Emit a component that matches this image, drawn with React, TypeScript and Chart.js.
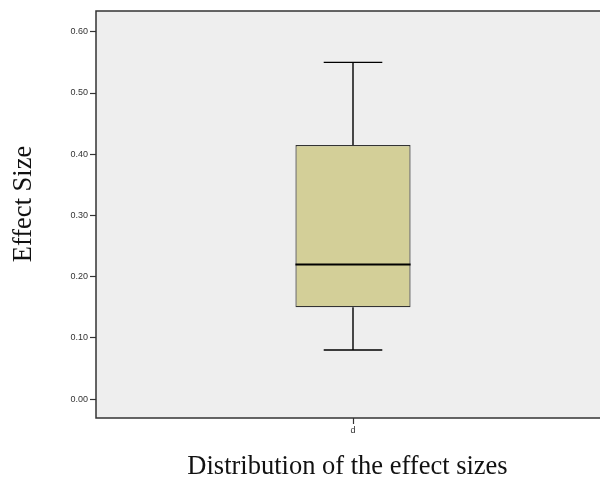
import React, { useEffect, useRef } from "react";
import { Chart, registerables } from "chart.js";

Chart.register(...registerables);

const categories = ["d"];
const whiskerLow = [0.08];
const q1Values = [0.15];
const medianValues = [0.22];
const q3Values = [0.415];
const whiskerHigh = [0.55];
const yTickValues = [0, 0.1, 0.2, 0.3, 0.4, 0.5, 0.6];
const yTickLabels = ["0.00", "0.10", "0.20", "0.30", "0.40", "0.50", "0.60"];
const yTitle = "Effect Size";
const xTitle = "Distribution of the effect sizes";

const titleFont = "26.5px 'Liberation Serif', 'Times New Roman', serif";

const framePlugin = {
  id: "frame",
  beforeDraw(chart: any) {
    const { ctx, chartArea: a } = chart;
    ctx.save();
    ctx.fillStyle = "#EEEEEE";
    ctx.fillRect(a.left, a.top, a.right - a.left, a.bottom - a.top);
    ctx.restore();
  },
  afterDatasetsDraw(chart: any) {
    const { ctx, chartArea: a, scales } = chart;
    const x = scales.x;
    const y = scales.y;
    const catW = (x.right - x.left) / categories.length;
    ctx.save();
    categories.forEach((_, i) => {
      const cx = x.getPixelForValue(i);
      const capHalf = catW * 0.057;
      const boxHalf = catW * 0.112;
      const yLo = y.getPixelForValue(whiskerLow[i]);
      const yQ1 = y.getPixelForValue(q1Values[i]);
      const yMed = y.getPixelForValue(medianValues[i]);
      const yQ3 = y.getPixelForValue(q3Values[i]);
      const yHi = y.getPixelForValue(whiskerHigh[i]);
      ctx.strokeStyle = "#000";
      ctx.lineWidth = 1.4;
      ctx.beginPath();
      ctx.moveTo(cx, yQ3);
      ctx.lineTo(cx, yHi);
      ctx.moveTo(cx - capHalf, yHi);
      ctx.lineTo(cx + capHalf, yHi);
      ctx.moveTo(cx, yQ1);
      ctx.lineTo(cx, yLo);
      ctx.moveTo(cx - capHalf, yLo);
      ctx.lineTo(cx + capHalf, yLo);
      ctx.stroke();
      ctx.lineWidth = 2;
      ctx.beginPath();
      ctx.moveTo(cx - boxHalf, yMed);
      ctx.lineTo(cx + boxHalf, yMed);
      ctx.stroke();
    });
    ctx.strokeStyle = "#333";
    ctx.lineWidth = 1.5;
    ctx.strokeRect(a.left, a.top, a.right - a.left, a.bottom - a.top);

    // axis titles
    ctx.fillStyle = "#111";
    ctx.font = titleFont;
    ctx.textAlign = "center";
    ctx.textBaseline = "middle";
    ctx.fillText(xTitle, 347.5, 467);
    ctx.translate(24, 204);
    ctx.rotate(-Math.PI / 2);
    ctx.fillText(yTitle, 0, 0);
    ctx.restore();
  },
};

export default function App() {
  const ref = useRef<HTMLCanvasElement>(null);
  useEffect(() => {
    document.documentElement.style.overflow = "hidden";
    document.body.style.overflow = "hidden";
    const chart = new Chart(ref.current!, {
      type: "bar",
      data: {
        labels: categories,
        datasets: [
          {
            data: categories.map((_, i) => [q1Values[i], q3Values[i]]) as any,
            backgroundColor: "#D3CF98",
            borderColor: "#333",
            borderWidth: 1.2,
            borderSkipped: false,
            barPercentage: 0.224,
            categoryPercentage: 1,
          },
        ],
      },
      options: {
        animation: false,
        responsive: false,
        events: [],
        layout: { padding: { top: 11, left: 0, right: 0, bottom: 0 } },
        plugins: { legend: { display: false }, tooltip: { enabled: false } },
        scales: {
          x: {
            type: "category",
            grid: { drawOnChartArea: false, offset: false, tickLength: 6, color: "#333", tickWidth: 1.2 },
            border: { display: false },
            ticks: { color: "#333", font: { family: "Liberation Sans, Arial", size: 9 }, padding: 1 },
            afterFit(scale: any) {
              scale.height = 65;
            },
          },
          y: {
            type: "linear",
            min: -0.031,
            max: 0.634,
            grid: { drawOnChartArea: false, tickLength: 6, color: "#333", tickWidth: 1.2 },
            border: { display: false },
            afterBuildTicks(scale: any) {
              scale.ticks = yTickValues.map((v) => ({ value: v }));
            },
            ticks: {
              color: "#333",
              font: { family: "Liberation Sans, Arial", size: 9 },
              padding: 2,
              callback: (v: any) => {
                const idx = yTickValues.findIndex((t) => Math.abs(t - Number(v)) < 1e-9);
                return idx >= 0 ? yTickLabels[idx] : "";
              },
            },
            afterFit(scale: any) {
              scale.width = 96;
            },
          },
        },
      },
      plugins: [framePlugin],
    });
    return () => chart.destroy();
  }, []);
  return (
    <div style={{ position: "absolute", left: 0, top: 0, width: 610, height: 483 }}>
      <canvas ref={ref} width={610} height={483} style={{ width: 610, height: 483 }} />
    </div>
  );
}
